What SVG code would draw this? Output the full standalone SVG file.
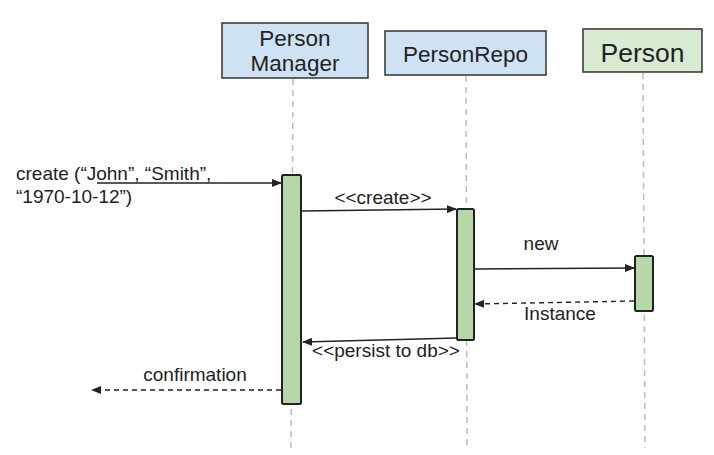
<svg xmlns="http://www.w3.org/2000/svg" width="714" height="455" viewBox="0 0 714 455">
<style>
text{font-family:"Liberation Sans",Arial,sans-serif;fill:#222}
.hdr{stroke:#333;stroke-width:1.5}
.blue{fill:#cfe2f3}
.green{fill:#d9ead3}
.act{fill:#b6d7a8;stroke:#222;stroke-width:2}
.life{stroke:#bbb;stroke-width:1.5;stroke-dasharray:6 5;fill:none}
.msg{stroke:#222;stroke-width:1.4;fill:none}
.ret{stroke:#222;stroke-width:1.4;stroke-dasharray:5 4;fill:none}
.lbl{font-size:19px}
.ttl{font-size:22.5px;text-anchor:middle}
</style>
<defs>
<marker id="ah" markerWidth="10" markerHeight="8" refX="9" refY="4" orient="auto" markerUnits="userSpaceOnUse">
<path d="M0,0 L10,4 L0,8 Z" fill="#222"/>
</marker>
</defs>
<rect width="714" height="455" fill="#fff"/>
<g id="lifelines">
<line class="life" x1="293" y1="79" x2="291" y2="448"/>
<line class="life" x1="466" y1="76" x2="467" y2="448"/>
<line class="life" x1="643" y1="73" x2="645" y2="448"/>
</g>
<g id="PersonManager">
<rect class="hdr blue" x="222" y="23" width="146" height="55"/>
<text class="ttl" x="295" y="46">Person</text>
<text class="ttl" x="295" y="71">Manager</text>
</g>
<g id="PersonRepo">
<rect class="hdr blue" x="385" y="31" width="161" height="44"/>
<text class="ttl" x="465.5" y="62">PersonRepo</text>
</g>
<g id="Person">
<rect class="hdr green" x="583" y="29" width="119" height="43"/>
<text x="642.5" y="62" style="font-size:26.5px;text-anchor:middle">Person</text>
</g>
<g id="act-PersonManager">
<rect class="act" x="282" y="175" width="19" height="229" rx="1.5"/>
</g>
<g id="act-PersonRepo">
<rect class="act" x="457" y="209" width="17" height="131" rx="1.5"/>
</g>
<g id="act-Person">
<rect class="act" x="635" y="256" width="18" height="55" rx="1.5"/>
</g>
<g id="connectors">
<line class="msg" x1="97" y1="183" x2="281" y2="183" marker-end="url(#ah)"/>
<line class="msg" x1="302" y1="211" x2="456" y2="209" marker-end="url(#ah)"/>
<line class="msg" x1="475" y1="269" x2="634" y2="268" marker-end="url(#ah)"/>
<line class="ret" x1="634" y1="301" x2="475" y2="304" marker-end="url(#ah)"/>
<line class="msg" x1="457" y1="338" x2="303" y2="342" marker-end="url(#ah)"/>
<line class="ret" x1="281" y1="390" x2="92" y2="390" marker-end="url(#ah)"/>
</g>
<g id="labels">
<text class="lbl" x="16" y="180">create (“John”, “Smith”,</text>
<text class="lbl" x="16" y="203">“1970-10-12”)</text>
<text class="lbl" x="383" y="204" text-anchor="middle">&lt;&lt;create&gt;&gt;</text>
<text class="lbl" x="541" y="250" text-anchor="middle">new</text>
<text class="lbl" x="560" y="320" text-anchor="middle">Instance</text>
<text class="lbl" x="386" y="357" text-anchor="middle">&lt;&lt;persist to db&gt;&gt;</text>
<text class="lbl" x="195" y="381" text-anchor="middle">confirmation</text>
</g>
</svg>
